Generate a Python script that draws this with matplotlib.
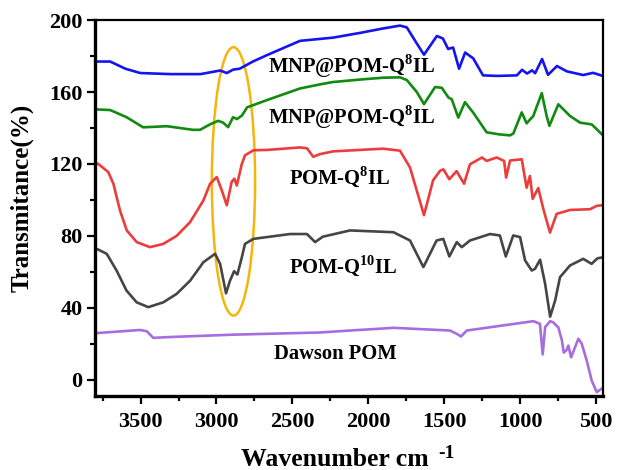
import matplotlib
matplotlib.use("Agg")
import matplotlib.pyplot as plt
from matplotlib.patches import Ellipse
from matplotlib.ticker import MultipleLocator

plt.rcParams['font.family'] = ['Liberation Serif', 'DejaVu Serif']
plt.rcParams['font.weight'] = 'bold'
plt.rcParams['mathtext.fontset'] = 'custom'
plt.rcParams['mathtext.rm'] = 'Liberation Serif:bold'
plt.rcParams['mathtext.bf'] = 'Liberation Serif:bold'

# FT-IR spectra, wavenumber (cm-1) vs transmittance (%, offset stacked)
mnp1_w = [3800, 3700, 3600, 3502, 3300, 3105, 2976, 2932, 2890, 2847, 2760, 2669,
          2450, 2232, 2050, 1903, 1791, 1746, 1680, 1633, 1548, 1508, 1474, 1441,
          1402, 1362, 1309, 1244, 1150, 1021, 987, 954, 921, 901, 855, 816, 757,
          691, 585, 519, 455]
mnp1_t = [177, 177, 173, 170.6, 170, 170, 172, 170.6, 172.5, 173, 177, 180.5,
          188.5, 190.3, 193, 195.4, 197, 196, 187, 180.8, 191.2, 189.8, 184, 184.8,
          173, 182, 178.8, 169.3, 169, 169.3, 172.4, 170.3, 172.1, 170.5, 178.4, 169.6, 174.5,
          171.5, 169.5, 170.7, 169]

mnp2_w = [3800, 3700, 3592, 3483, 3326, 3155, 3108, 3043, 2989, 2956, 2923, 2891,
          2864, 2832, 2798, 2669, 2450, 2317, 2232, 2050, 1903, 1791, 1746, 1680,
          1633, 1560, 1516, 1472, 1450, 1407, 1363, 1308, 1220, 1140, 1066, 1044,
          989, 957, 913, 857, 825, 807, 748, 671, 605, 528, 495, 455]
mnp2_t = [150.4, 150, 146, 140.4, 141, 139, 139, 142, 144, 143, 140.5, 146,
          145, 147, 151.5, 155.5, 162, 164.3, 165.6, 167, 168, 168.2, 166.7, 160,
          153.3, 162.8, 162.4, 157, 156, 145.8, 154.4, 148.5, 137.6, 136.5, 135.9, 137,
          148.7, 142.6, 146.7, 159.4, 146.7, 141.2, 153.2, 146.7, 143, 142, 139.3, 136]

pq8_w = [3800, 3778, 3713, 3679, 3635, 3591, 3525, 3438, 3350, 3262, 3174, 3086,
         3042, 2998, 2965, 2932, 2900, 2882, 2866, 2833, 2812, 2757, 2667, 2449,
         2403, 2363, 2317, 2232, 1903, 1791, 1725, 1633, 1573, 1527, 1505, 1466,
         1418, 1369, 1330, 1251, 1220, 1154, 1105, 1092, 1066, 989, 957, 935, 917,
         880, 847, 803, 759, 671, 539, 495, 455]
pq8_t = [120.5, 120, 115.5, 109, 94, 83, 76.5, 73.7, 75.5, 80, 87.6, 99.7,
         109, 112.7, 105.3, 97, 110, 111.8, 108, 120, 124.8, 127.6, 127.8, 129.2,
         128.7, 124, 125.5, 127, 128.5, 127.4, 118, 91.5, 110.9, 116.2, 117, 111.5,
         116, 109, 119.8, 123.6, 121.7, 123.6, 121.7, 112.4, 121.9, 122.6, 106.8, 113.3, 100.6,
         106.6, 95, 81.8, 92.2, 94.4, 94.8, 96.7, 97]

pq10_w = [3800, 3790, 3723, 3658, 3593, 3526, 3449, 3350, 3262, 3174, 3086, 3009,
          2976, 2937, 2911, 2884, 2862, 2833, 2812, 2757, 2515, 2404, 2350, 2300,
          2120, 1834, 1725, 1637, 1550, 1506, 1466, 1417, 1384, 1330, 1198, 1133,
          1094, 1045, 1000, 967, 923, 902, 868, 835, 802, 769, 737, 671, 584, 529,
          490, 455]
pq10_t = [73, 72.8, 70, 60.7, 49.6, 43, 40.3, 43, 47.7, 55, 65.3, 70,
          64.4, 48, 55, 60.3, 58.5, 68, 75.5, 78.3, 81, 81, 76.5, 79.5,
          83, 82, 77.4, 62.6, 77.4, 78.3, 68.5, 76.5, 73.7, 77.4, 81, 80.2,
          68.5, 80.2, 79.3, 66.3, 60.7, 61.6, 66.7, 53.3, 35, 44, 57, 63.5, 67.2, 64.4,
          67.5, 68]

dawson_w = [3800, 3503, 3459, 3416, 3327, 2888, 2317, 2120, 1944, 1834, 1462, 1418,
            1389, 1351, 912, 869, 851, 835, 802, 781, 748, 725, 712, 693, 682, 664,
            616, 594, 561, 528, 495, 455]
dawson_t = [25.8, 27.6, 26.9, 23.2, 23.6, 25, 26.2, 27.3, 28.2, 28.8, 27.3, 25.5,
            24, 27.3, 32.5, 31, 14, 29.2, 32.5, 31.8, 29, 22, 15, 16.5, 18.9, 12.4,
            22.7, 20, 10.6, -0.6, -7, -4.6]

labels = [r'MNP@POM-Q$^{\mathbf{8}}$IL', r'MNP@POM-Q$^{\mathbf{8}}$IL',
          r'POM-Q$^{\mathbf{8}}$IL', r'POM-Q$^{\mathbf{10}}$IL', 'Dawson POM']
label_x = [2658, 2658, 2525, 2525, 2618]
label_y = [170.5, 142.6, 109.2, 59.6, 11.7]

fig = plt.figure(figsize=(6.17, 4.70), dpi=100)
ax = fig.add_axes([0.154, 0.158, 0.823, 0.799])

ax.plot(mnp1_w, mnp1_t, color='#1414f0', lw=1.9)
ax.plot(mnp2_w, mnp2_t, color='#108a10', lw=1.9)
ax.plot(pq8_w, pq8_t, color='#ec3c3c', lw=1.9)
ax.plot(pq10_w, pq10_t, color='#454545', lw=1.9)
ax.plot(dawson_w, dawson_t, color='#a66ddf', lw=1.9)

for txt, x, y in zip(labels, label_x, label_y):
    ax.text(x, y, txt, fontsize=14.8, fontweight='bold', ha='left', va='baseline')

# highlight of the C-H stretching region
ax.add_patch(Ellipse((2888, 110.3), 285, 149.4, fill=False,
                     edgecolor='#f5b50a', lw=1.8))

ax.set_xlim(3800, 455)
ax.set_ylim(-9, 200)
ax.xaxis.set_major_locator(MultipleLocator(500))
ax.xaxis.set_minor_locator(MultipleLocator(250))
ax.yaxis.set_major_locator(MultipleLocator(40))
ax.yaxis.set_minor_locator(MultipleLocator(20))
ax.tick_params(which='both', direction='out', width=1.6, labelsize=16,
               top=False, right=False)
ax.tick_params(which='major', length=6, pad=3)
ax.tick_params(axis='x', which='major', pad=6)
ax.tick_params(which='minor', length=3.5)
for lab in ax.get_xticklabels() + ax.get_yticklabels():
    lab.set_fontweight('bold')

for side in ['left', 'bottom']:
    ax.spines[side].set_linewidth(2.4)
for side in ['top', 'right']:
    ax.spines[side].set_linewidth(1.6)

fig.text(0.036, 0.579, 'Transmitance(%)', rotation=90, fontsize=18,
         fontweight='bold', ha='center', va='center')
fig.text(0.543, 0.008, 'Wavenumber cm', fontsize=18.5, fontweight='bold',
         ha='center', va='baseline')
fig.text(0.724, 0.0165, '-1', fontsize=14, fontweight='bold',
         ha='center', va='bottom')

fig.savefig('out.png', dpi=100)
